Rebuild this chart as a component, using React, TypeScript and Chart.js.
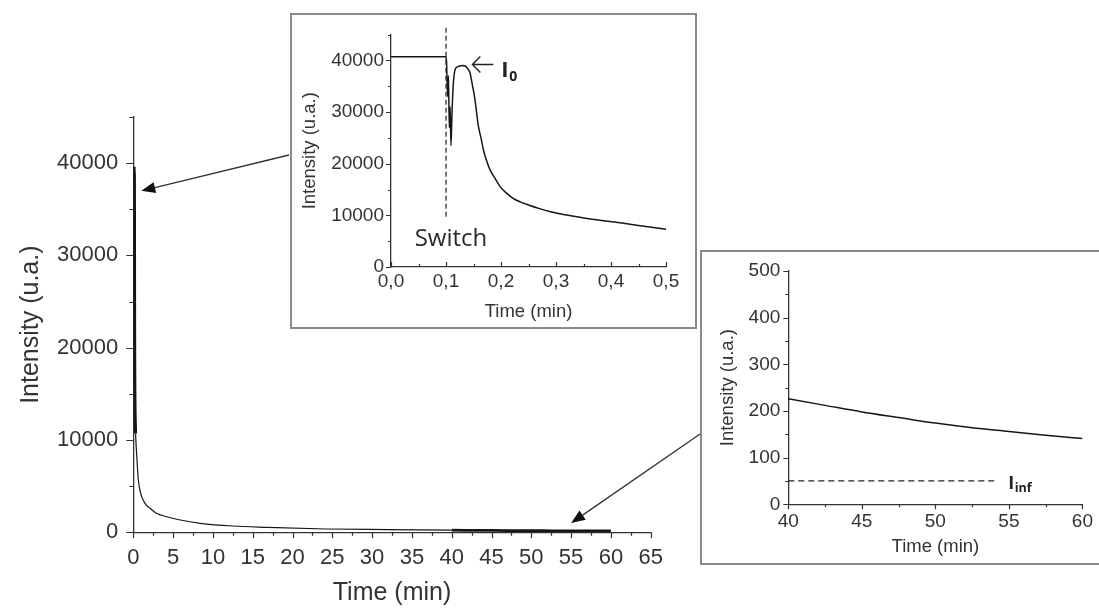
import React, { useEffect, useRef } from "react";
import { Chart, registerables } from "chart.js";
Chart.register(...registerables);

const W = 1099;
const H = 608;

// ---------- data ----------
// Inset 1: switch transient, 0–0.5 min
const switchTime = [0, 0.1, 0.101, 0.103, 0.1045, 0.106, 0.1075, 0.109, 0.111, 0.113, 0.116, 0.12, 0.125, 0.13, 0.135, 0.14, 0.1436, 0.148, 0.1527, 0.1588, 0.164, 0.168, 0.174, 0.18, 0.19, 0.198, 0.21, 0.222, 0.235, 0.25, 0.27, 0.29, 0.316, 0.35, 0.383, 0.42, 0.46, 0.5];
const switchIntensity = [40700, 40700, 39600, 33000, 37000, 27000, 31000, 23500, 30000, 35000, 38000, 38700, 38900, 39000, 38900, 38300, 37600, 35200, 32400, 27300, 24800, 22700, 20500, 18800, 17000, 15600, 14300, 13300, 12600, 12000, 11300, 10700, 10100, 9500, 9000, 8500, 7900, 7300];

// Main decay, 0.5–40 min
const decayTime = [0.63, 0.93, 1.47, 2.1, 2.9, 4.2, 5.9, 8.4, 12.5, 16.8, 24.3, 32];
const decayIntensity = [5660, 4220, 3140, 2600, 2060, 1690, 1330, 975, 680, 540, 360, 290];

// Inset 2: tail, 40–60 min
const tailTime = [40, 42.5, 45, 47.5, 50, 52.5, 55, 57.5, 60];
const tailIntensity = [226, 212, 198, 186, 174, 164, 156, 148, 141];

const SWITCH_TIME = 0.1;
const I_INF = 50;
const I_INF_END = 54;

// tick labels
const mainXLabelStep = 5;
const mainYLabelStep = 10000;
const inset1XLabels = ["0,0", "0,1", "0,2", "0,3", "0,4", "0,5"];

// ---------- styling ----------
const AXIS = "#333";
const TEXT = "#333";
const LINE = "#161616";
const FONT = "'Liberation Sans', Arial, sans-serif";
const HFONT = "'Open Sans', 'Noto Sans', sans-serif";

type Area = { left: number; top: number; right: number; bottom: number };
type TickSpec = { major: number; minor: number; majorLen: number; minorLen: number; dir: number };

function pts(xs: number[], ys: number[]) {
  return xs.map((x, i) => ({ x, y: ys[i] }));
}

function drawTicks(chart: any, axis: "x" | "y", spec: TickSpec) {
  const s = chart.scales[axis];
  const ctx = chart.ctx;
  const a = chart.chartArea;
  ctx.save();
  ctx.strokeStyle = AXIS;
  ctx.lineWidth = 1.2;
  ctx.beginPath();
  const n = Math.round((s.max - s.min) / spec.minor);
  for (let i = 0; i <= n; i++) {
    const v = s.min + i * spec.minor;
    const r = v / spec.major;
    const major = Math.abs(r - Math.round(r)) < 1e-6;
    const len = major ? spec.majorLen : spec.minorLen;
    if (axis === "x") {
      const px = Math.round(s.getPixelForValue(v)) + 0.5;
      ctx.moveTo(px, a.bottom);
      ctx.lineTo(px, a.bottom + spec.dir * len);
    } else {
      const py = Math.round(s.getPixelForValue(v)) + 0.5;
      ctx.moveTo(a.left, py);
      ctx.lineTo(a.left - spec.dir * len, py);
    }
  }
  ctx.stroke();
  ctx.restore();
}

function scale(o: {
  min: number; max: number; step: number; fmt: (v: number) => string; size: number; pad: number;
  title: string; titleSize: number; titlePad: any; fit: (s: any) => void;
}) {
  return {
    type: "linear",
    min: o.min,
    max: o.max,
    afterFit: o.fit,
    border: { display: true, color: AXIS, width: 1.3 },
    grid: { display: false, drawTicks: false, drawOnChartArea: false },
    ticks: {
      stepSize: o.step,
      autoSkip: false,
      maxRotation: 0,
      minRotation: 0,
      padding: o.pad,
      color: TEXT,
      font: { family: FONT, size: o.size },
      callback: (v: any) => o.fmt(Number(v)),
    },
    title: { display: true, text: o.title, color: TEXT, font: { family: FONT, size: o.titleSize }, padding: o.titlePad },
  };
}

function baseOptions(area: Area, yBoxLeft: number, xBoxBottom: number) {
  return {
    responsive: false,
    animation: false,
    devicePixelRatio: 1,
    events: [],
    layout: { padding: { left: yBoxLeft, top: area.top, right: W - area.right, bottom: H - xBoxBottom } },
    plugins: { legend: { display: false }, tooltip: { enabled: false } },
  };
}

function arrow(ctx: any, x0: number, y0: number, x1: number, y1: number) {
  const ang = Math.atan2(y1 - y0, x1 - x0);
  const L = 14, Wd = 5.5;
  const bx = x1 - L * Math.cos(ang), by = y1 - L * Math.sin(ang);
  ctx.save();
  ctx.strokeStyle = "#333";
  ctx.fillStyle = "#111";
  ctx.lineWidth = 1.3;
  ctx.beginPath();
  ctx.moveTo(x0, y0);
  ctx.lineTo(bx, by);
  ctx.stroke();
  ctx.beginPath();
  ctx.moveTo(x1, y1);
  ctx.lineTo(bx + Wd * Math.sin(ang), by - Wd * Math.cos(ang));
  ctx.lineTo(bx - Wd * Math.sin(ang), by + Wd * Math.cos(ang));
  ctx.closePath();
  ctx.fill();
  ctx.restore();
}

// ---------- main chart ----------
function mainConfig(): any {
  const area: Area = { left: 133.3, top: 117, right: 650.7, bottom: 532.3 };
  const yBoxLeft = 8;
  const xBoxBottom = 608;
  const sw = switchTime.map((t, i) => ({ x: t, y: switchIntensity[i] })).filter((p) => p.x > SWITCH_TIME);
  const data = [...sw, ...pts(decayTime, decayIntensity), ...pts(tailTime, tailIntensity)];
  return {
    type: "line",
    data: {
      datasets: [
        {
          data,
          borderColor: LINE,
          borderWidth: 1.2,
          pointRadius: 0,
          cubicInterpolationMode: "monotone",
          segment: {
            borderWidth: (c: any) => (c.p0.parsed.x >= 40 ? 2.8 : c.p1.parsed.x <= 0.3 ? 3 : 1.2),
          },
        },
      ],
    },
    options: {
      ...baseOptions(area, yBoxLeft, xBoxBottom),
      scales: {
        x: scale({
          min: 0, max: 65, step: mainXLabelStep, fmt: (v) => String(v), size: 22, pad: 12,
          title: "Time (min)", titleSize: 25, titlePad: { top: 0, bottom: 0 },
          fit: (s) => { s.height = xBoxBottom - area.bottom; },
        }),
        y: scale({
          min: 0, max: 45000, step: 5000, fmt: (v) => (v % mainYLabelStep === 0 ? String(v) : ""), size: 22, pad: 15,
          title: "Intensity (u.a.)", titleSize: 25, titlePad: { top: 8, bottom: 0 },
          fit: (s) => { s.width = area.left - yBoxLeft; },
        }),
      },
    },
    plugins: [
      {
        id: "mainDecor",
        beforeDraw(chart: any) {
          const ctx = chart.ctx;
          ctx.save();
          ctx.fillStyle = "#fff";
          ctx.fillRect(0, 0, W, H);
          ctx.restore();
        },
        afterDraw(chart: any) {
          drawTicks(chart, "x", { major: 5, minor: 2.5, majorLen: 6, minorLen: 3.5, dir: 1 });
          drawTicks(chart, "y", { major: 10000, minor: 5000, majorLen: 7, minorLen: 4, dir: 1 });
          const x = chart.scales.x, y = chart.scales.y, ctx = chart.ctx;
          arrow(ctx, 289, 155, x.getPixelForValue(1), y.getPixelForValue(37000));
          arrow(ctx, 703, 432, x.getPixelForValue(55), y.getPixelForValue(1000));
        },
      },
    ],
  };
}

// ---------- inset 1 ----------
function inset1Config(): any {
  const area: Area = { left: 391, top: 34.5, right: 666, bottom: 267 };
  const yBoxLeft = 294;
  const xBoxBottom = 325;
  return {
    type: "line",
    data: {
      datasets: [
        {
          data: pts(switchTime, switchIntensity),
          borderColor: LINE,
          borderWidth: 1.5,
          pointRadius: 0,
          cubicInterpolationMode: "monotone",
        },
      ],
    },
    options: {
      ...baseOptions(area, yBoxLeft, xBoxBottom),
      scales: {
        x: scale({
          min: 0, max: 0.5, step: 0.1, fmt: (v) => inset1XLabels[Math.round(v * 10)] ?? "", size: 19, pad: 3,
          title: "Time (min)", titleSize: 18.5, titlePad: { top: 0, bottom: 2 },
          fit: (s) => { s.height = xBoxBottom - area.bottom; },
        }),
        y: scale({
          min: 0, max: 45000, step: 5000, fmt: (v) => (v % 10000 === 0 ? String(v) : ""), size: 19, pad: 7,
          title: "Intensity (u.a.)", titleSize: 18.5, titlePad: { top: 4.5, bottom: 0 },
          fit: (s) => { s.width = area.left - yBoxLeft; },
        }),
      },
    },
    plugins: [
      {
        id: "inset1Decor",
        afterDraw(chart: any) {
          drawTicks(chart, "x", { major: 0.1, minor: 0.05, majorLen: 5, minorLen: 3, dir: -1 });
          drawTicks(chart, "y", { major: 10000, minor: 5000, majorLen: 5, minorLen: 3, dir: 1 });
          const x = chart.scales.x, y = chart.scales.y, ctx = chart.ctx;
          const sx = x.getPixelForValue(SWITCH_TIME);
          ctx.save();
          ctx.strokeStyle = "#222";
          ctx.lineWidth = 1.2;
          ctx.setLineDash([5, 3]);
          ctx.beginPath();
          ctx.moveTo(sx, y.getPixelForValue(46300));
          ctx.lineTo(sx, y.getPixelForValue(9600));
          ctx.stroke();
          ctx.setLineDash([]);
          // Switch label
          ctx.fillStyle = "#2a2a2a";
          ctx.font = `24px ${HFONT}`;
          ctx.textAlign = "center";
          ctx.textBaseline = "alphabetic";
          ctx.fillText("Switch", sx + 5, y.getPixelForValue(5000) + 5);
          // I0 arrow
          const ay = y.getPixelForValue(39200);
          const ax0 = x.getPixelForValue(0.186), ax1 = x.getPixelForValue(0.148);
          ctx.strokeStyle = "#222";
          ctx.lineWidth = 1.4;
          ctx.beginPath();
          ctx.moveTo(ax0, ay);
          ctx.lineTo(ax1, ay);
          ctx.moveTo(ax1 + 8, ay - 8);
          ctx.lineTo(ax1, ay);
          ctx.lineTo(ax1 + 8, ay + 8);
          ctx.stroke();
          ctx.textAlign = "left";
          ctx.fillStyle = "#222";
          ctx.font = `bold 22px ${HFONT}`;
          ctx.fillText("I", ax0 + 8, ay + 13);
          ctx.font = `bold 14px ${HFONT}`;
          ctx.fillText("0", ax0 + 16, ay + 17);
          ctx.restore();
        },
      },
    ],
  };
}

// ---------- inset 2 ----------
function inset2Config(): any {
  const area: Area = { left: 788.3, top: 271, right: 1083.3, bottom: 504.3 };
  const yBoxLeft = 711;
  const xBoxBottom = 561;
  return {
    type: "line",
    data: {
      datasets: [
        {
          data: pts(tailTime, tailIntensity),
          borderColor: LINE,
          borderWidth: 1.5,
          pointRadius: 0,
          cubicInterpolationMode: "monotone",
        },
      ],
    },
    options: {
      ...baseOptions(area, yBoxLeft, xBoxBottom),
      scales: {
        x: scale({
          min: 40, max: 60, step: 5, fmt: (v) => String(v), size: 19, pad: 6,
          title: "Time (min)", titleSize: 18.5, titlePad: { top: 0, bottom: 3 },
          fit: (s) => { s.height = xBoxBottom - area.bottom; },
        }),
        y: scale({
          min: 0, max: 500, step: 100, fmt: (v) => String(v), size: 19, pad: 8,
          title: "Intensity (u.a.)", titleSize: 18.5, titlePad: { top: 6, bottom: 0 },
          fit: (s) => { s.width = area.left - yBoxLeft; },
        }),
      },
    },
    plugins: [
      {
        id: "inset2Decor",
        afterDraw(chart: any) {
          drawTicks(chart, "x", { major: 5, minor: 2.5, majorLen: 5, minorLen: 3, dir: 1 });
          drawTicks(chart, "y", { major: 100, minor: 50, majorLen: 5, minorLen: 3, dir: 1 });
          const x = chart.scales.x, y = chart.scales.y, ctx = chart.ctx;
          const py = y.getPixelForValue(I_INF);
          ctx.save();
          ctx.strokeStyle = "#222";
          ctx.lineWidth = 1.2;
          ctx.setLineDash([6, 4]);
          ctx.beginPath();
          ctx.moveTo(x.getPixelForValue(40), py);
          ctx.lineTo(x.getPixelForValue(I_INF_END), py);
          ctx.stroke();
          ctx.setLineDash([]);
          const tx = x.getPixelForValue(I_INF_END) + 14;
          ctx.fillStyle = "#222";
          ctx.textAlign = "left";
          ctx.textBaseline = "alphabetic";
          ctx.font = `bold 18px ${HFONT}`;
          ctx.fillText("I", tx, py + 8);
          ctx.font = `bold 12.5px ${HFONT}`;
          ctx.fillText("inf", tx + 6.5, py + 11);
          ctx.restore();
        },
      },
    ],
  };
}

export default function App() {
  const mainRef = useRef<HTMLCanvasElement>(null);
  const in1Ref = useRef<HTMLCanvasElement>(null);
  const in2Ref = useRef<HTMLCanvasElement>(null);

  useEffect(() => {
    const charts = [
      new Chart(mainRef.current as HTMLCanvasElement, mainConfig()),
      new Chart(in1Ref.current as HTMLCanvasElement, inset1Config()),
      new Chart(in2Ref.current as HTMLCanvasElement, inset2Config()),
    ];
    return () => charts.forEach((c) => c.destroy());
  }, []);

  const cs: React.CSSProperties = { position: "absolute", left: 0, top: 0, width: W, height: H };
  const box: React.CSSProperties = {
    position: "absolute",
    border: "2px solid #8a8a8a",
    boxSizing: "border-box",
    background: "#fff",
  };
  return (
    <div style={{ position: "fixed", left: 0, top: 0, width: W, height: H, background: "#fff", overflow: "hidden" }}>
      <canvas ref={mainRef} width={W} height={H} style={cs} />
      <div style={{ ...box, left: 290, top: 13, width: 407, height: 316 }} />
      <div style={{ ...box, left: 700, top: 250, width: 402, height: 315 }} />
      <canvas ref={in1Ref} width={W} height={H} style={cs} />
      <canvas ref={in2Ref} width={W} height={H} style={cs} />
    </div>
  );
}
